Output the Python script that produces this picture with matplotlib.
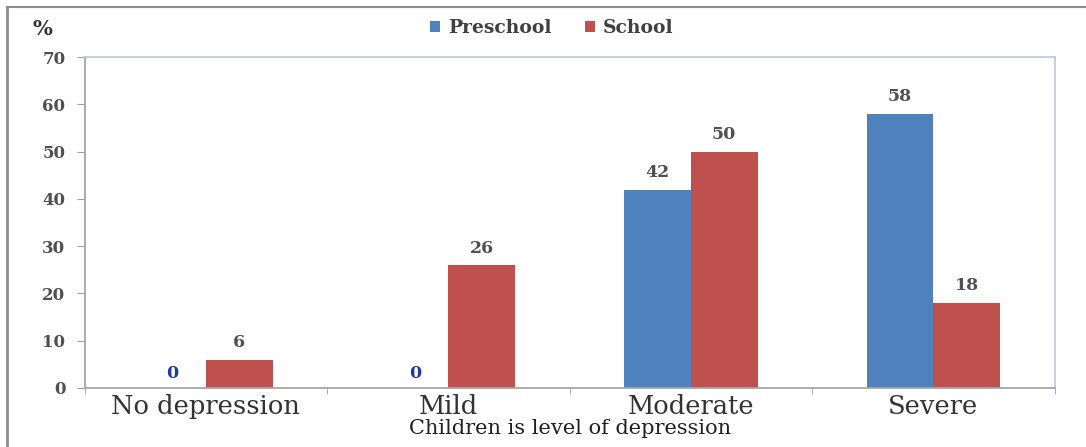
import matplotlib.pyplot as plt
import matplotlib as mpl
import numpy as np

levels = ['No depression', 'Mild', 'Moderate', 'Severe']
preschool = [0, 0, 42, 58]
school = [6, 26, 50, 18]
series_names = ['Preschool', 'School']
y_ticks = [0, 10, 20, 30, 40, 50, 60, 70]

mpl.rcParams['font.family'] = ['DejaVu Serif']

blue = '#4f81bd'
red = '#c0504d'
frame_blue = '#b9cde5'
grey_txt = '#505050'

fig = plt.figure(figsize=(10.86, 4.47), dpi=100)
ax = fig.add_axes((0.078, 0.132, 0.893, 0.740))

x = np.arange(len(levels))
w = 0.275
b1 = ax.bar(x - w / 2, preschool, w, color=blue, label=series_names[0])
b2 = ax.bar(x + w / 2, school, w, color=red, label=series_names[1])

# value labels, zeros get the dark blue colour
for bars, vals in ((b1, preschool), (b2, school)):
    for r, v in zip(bars, vals):
        if v == 0:
            ax.text(r.get_x() + r.get_width() / 2, v + 1.2, str(v), ha='center', va='bottom',
                    fontsize=12.5, fontweight='bold', color='#1f3a9a')
        else:
            ax.text(r.get_x() + r.get_width() / 2, v + 1.8, str(v), ha='center', va='bottom',
                    fontsize=12.5, fontweight='semibold', color=grey_txt)

ax.set_xlim(-0.5, len(levels) - 0.5)
ax.set_ylim(0, 70)
ax.set_yticks(y_ticks)
ax.set_yticklabels([str(t) for t in y_ticks], fontsize=12, fontweight='semibold', color=grey_txt)
ax.set_xticks(x)
ax.set_xticklabels(levels, fontsize=18.5, color='#333333')
ax.set_xticks(np.arange(len(levels) + 1) - 0.5, minor=True)
ax.tick_params(axis='x', which='major', length=0, pad=4)
ax.tick_params(axis='x', which='minor', length=4, color='#a0a0a0', direction='out')
ax.tick_params(axis='y', length=6, color='#a0a0a0', direction='out', pad=8)

for side in ('left', 'bottom'):
    ax.spines[side].set_color('#a6a6a6')
    ax.spines[side].set_linewidth(1.3)
for side in ('top', 'right'):
    ax.spines[side].set_color(frame_blue)
    ax.spines[side].set_linewidth(1.3)

ax.set_xlabel('Children is level of depression', fontsize=15, color='#202020', labelpad=0)

fig.text(0.03, 0.935, '%', fontsize=15, fontweight='bold', color='#333333', ha='left', va='center')

leg = fig.legend(handles=[b1, b2], loc='center', bbox_to_anchor=(0.508, 0.937), ncol=2,
                 frameon=False, handlelength=0.55, handleheight=0.55, handletextpad=0.4,
                 columnspacing=1.8, prop={'size': 13.5, 'weight': 'bold'})
for t in leg.get_texts():
    t.set_color('#404040')

# outer frame lines on the left and top
fig.add_artist(plt.Line2D([0.0065, 0.0065], [0, 0.985], transform=fig.transFigure,
                          color='#8c8c8c', lw=2))
fig.add_artist(plt.Line2D([0.0065, 1.0], [0.985, 0.985], transform=fig.transFigure,
                          color='#8c8c8c', lw=1.5))

fig.savefig('out.png', dpi=100)
